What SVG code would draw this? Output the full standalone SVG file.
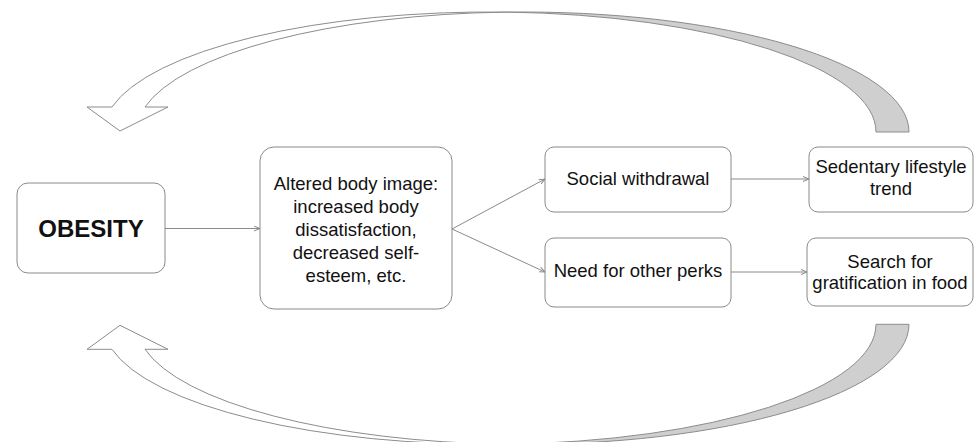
<svg xmlns="http://www.w3.org/2000/svg" width="974" height="442" viewBox="0 0 974 442">
<defs>
<style>
.box{fill:#ffffff;stroke:#8a8a8a;stroke-width:1}
.t{font-family:"Liberation Sans",Arial,sans-serif;font-size:18.5px;fill:#111;text-anchor:middle}
.tb{font-family:"Liberation Sans",Arial,sans-serif;font-size:24px;font-weight:bold;fill:#111;text-anchor:middle}
.con{stroke:#8a8a8a;stroke-width:1;fill:none}
.band{stroke:#8c8c8c;stroke-width:1;stroke-linejoin:round}
.under{fill:#cfcfcf}
.top{fill:#ffffff}
</style>
<marker id="ah" markerWidth="7" markerHeight="6" refX="6" refY="3" orient="auto" markerUnits="userSpaceOnUse">
<path d="M0,0.5 L6,3 L0,5.5" fill="none" stroke="#8a8a8a" stroke-width="1"/>
</marker>
</defs>
<rect width="974" height="442" fill="#ffffff"/>

<g id="loop-top">
<path class="band under" d="M909,132 A386.2,120 0 0 0 506.3,12.1 A386.2,120 0 0 1 876,132 Z"/>
<path class="band top" d="M112,107 A386.2,120 0 0 1 506.3,12.1 A386.2,120 0 0 0 145,107 L168,107 L120,131 L87,107 Z"/>
</g>
<g id="loop-bottom">
<path class="band under" d="M909,324.3 A386.2,120 0 0 1 506.3,444.2 A386.2,120 0 0 0 876,324.3 Z"/>
<path class="band top" d="M112,349.3 A386.2,120 0 0 0 506.3,444.2 A386.2,120 0 0 1 145,349.3 L168,349.3 L120,325.3 L87,349.3 Z"/>
</g>

<g id="connectors">
<line class="con" x1="165" y1="228.5" x2="260" y2="228.5" marker-end="url(#ah)"/>
<line class="con" x1="452" y1="229" x2="545" y2="179" marker-end="url(#ah)"/>
<line class="con" x1="452" y1="229" x2="545" y2="272" marker-end="url(#ah)"/>
<line class="con" x1="731" y1="179" x2="809" y2="179" marker-end="url(#ah)"/>
<line class="con" x1="731" y1="272" x2="807" y2="272" marker-end="url(#ah)"/>
</g>

<g id="obesity">
<rect class="box" x="17" y="183" width="148" height="90" rx="11"/>
<text class="tb" x="91" y="237">OBESITY</text>
</g>
<g id="altered">
<rect class="box" x="260" y="147" width="192" height="162" rx="14"/>
<text class="t" x="356" y="190">Altered body image:</text>
<text class="t" x="356" y="213">increased body</text>
<text class="t" x="356" y="236">dissatisfaction,</text>
<text class="t" x="356" y="259">decreased self-</text>
<text class="t" x="356" y="282">esteem, etc.</text>
</g>
<g id="social">
<rect class="box" x="545" y="147" width="186" height="65" rx="9"/>
<text class="t" x="638" y="185">Social withdrawal</text>
</g>
<g id="need">
<rect class="box" x="545" y="238" width="186" height="69" rx="9"/>
<text class="t" x="638" y="277">Need for other perks</text>
</g>
<g id="sedentary">
<rect class="box" x="809" y="147" width="164" height="65" rx="9"/>
<text class="t" x="891" y="173">Sedentary lifestyle</text>
<text class="t" x="891" y="195">trend</text>
</g>
<g id="search">
<rect class="box" x="807" y="238" width="166" height="68" rx="9"/>
<text class="t" x="890" y="268">Search for</text>
<text class="t" x="890" y="289">gratification in food</text>
</g>
</svg>
